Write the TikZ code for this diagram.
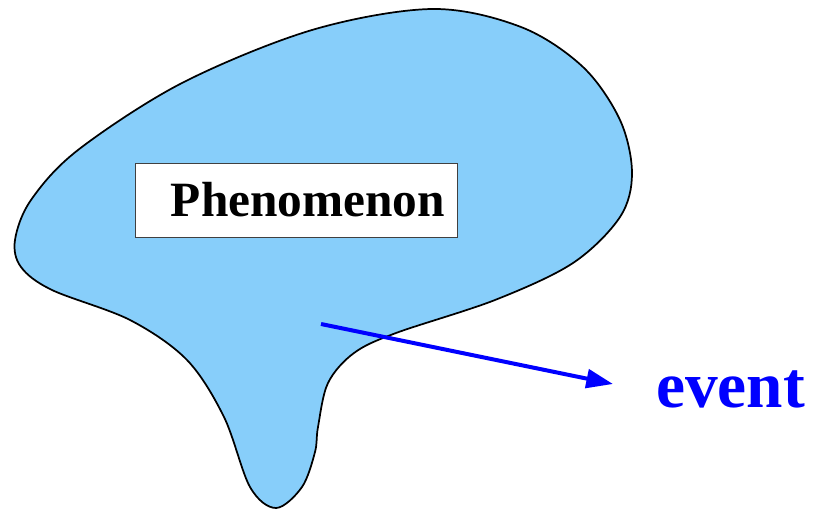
\documentclass[tikz,border=0pt]{standalone}
\usepackage{fontspec}
\setmainfont{Liberation Serif}
\usetikzlibrary{arrows.meta}
\definecolor{blobfill}{RGB}{135,206,250}
\tikzset{
  blob/.style={draw=black, line width=1.3pt, fill=blobfill},
  labelbox/.style={draw=black!75, line width=0.7pt, fill=white, inner xsep=9pt, inner ysep=0pt,
     text width=223.5pt, align=right, minimum height=55.5pt,
     font=\fontsize{37}{40}\selectfont\bfseries},
  eventlabel/.style={text=blue, inner sep=0pt, font=\fontsize{49}{52}\selectfont\bfseries},
  eventarrow/.style={draw=blue, line width=3pt, -{Triangle[length=20pt,width=14pt]}}
}
\begin{document}
\begin{tikzpicture}[x=0.75pt,y=-0.75pt]
\useasboundingbox (0,0) rectangle (818,510);
\draw[blob] plot[smooth cycle, tension=0.55] coordinates {
 (432,9) (521,27) (583,67) (620,120) (632,173) (620,217) (573,263) (495,300)
 (396,333) (354,353) (328,383) (318,427) (315,452) (302,487) (276,508) (250,487)
 (224,417) (187,360) (130,320) (52,290) (21,267) (15,240) (31,200) (78,150)
 (182,83) (312,30)};
\node[labelbox] (box) at (296,200) {Phenomenon};
\node[eventlabel, anchor=base west] (event) at (656,407) {event};
\coordinate (start) at (321,324);
\coordinate (tip) at (613,384);
\draw[eventarrow] (start) -- (tip);
\end{tikzpicture}
\end{document}
